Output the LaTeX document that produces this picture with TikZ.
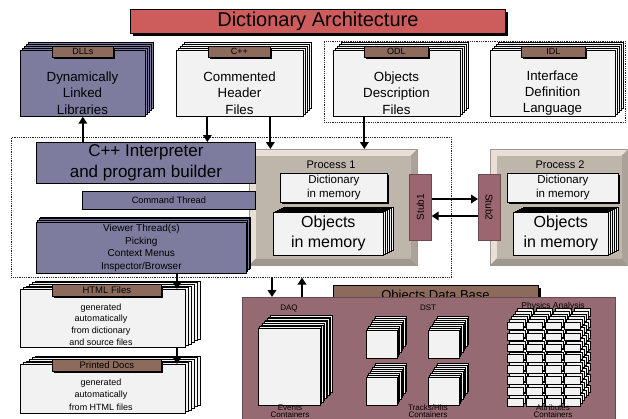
\documentclass[tikz,border=0pt]{standalone}
\usepackage{fontspec}
\usepackage{graphicx}
\setmainfont{Liberation Sans}
\usetikzlibrary{arrows.meta}

\definecolor{titlered}{RGB}{205,92,92}
\definecolor{slate}{RGB}{126,124,158}
\definecolor{tabbrown}{RGB}{140,106,92}
\definecolor{paper}{RGB}{242,242,242}
\definecolor{procin}{RGB}{190,181,171}
\definecolor{proclight}{RGB}{232,224,214}
\definecolor{procdark}{RGB}{160,151,142}
\definecolor{stubc}{RGB}{155,102,112}
\definecolor{stubedge}{RGB}{110,72,80}
\definecolor{dbpanel}{RGB}{150,106,114}

\newcommand\fs[2]{\fontsize{#1}{#2}\selectfont}
% stack of sheets behind a face: x1 y1 x2 y2 layers dx dy fill
\newcommand\paperdeck[8]{%
  \foreach \k in {#5,...,1}{%
    \draw[layer,fill=#8] ({#1+\k*#6},{#2-\k*#7}) rectangle ({#3+\k*#6},{#4-\k*#7});
  }}
% bevelled frame around a process node
\newcommand\bevel[1]{%
  \fill[procdark] (#1.south west) -- (#1.south east) -- ([shift={(-7,-7)}]#1.south east) -- ([shift={(7,-7)}]#1.south west) -- cycle;
  \fill[procdark!85!proclight] (#1.south east) -- (#1.north east) -- ([shift={(-7,7)}]#1.north east) -- ([shift={(-7,-7)}]#1.south east) -- cycle;
  \fill[procin] ([shift={(7,7)}]#1.north west) rectangle ([shift={(-7,-7)}]#1.south east);
}

\begin{document}
\begin{tikzpicture}[x=1pt,y=-1pt,
  layer/.style={draw=black,line width=0.45pt},
  face/.style={draw=black,line width=0.7pt,inner sep=0pt,anchor=north west,align=center},
  dropsh/.style={preaction={fill=black,transform canvas={xshift=#1pt,yshift=-#1pt}}},
  tabbox/.style={face,fill=tabbrown,dropsh=1.2,font=\fs{9}{10}},
  dotbox/.style={draw=black!85,line width=0.6pt,dash pattern=on 0.7pt off 1.1pt,inner sep=0pt,anchor=north west},
  arr/.style={line width=2.2pt,-{Triangle[width=8.5pt,length=7pt]}},
  txt/.style={align=center,inner sep=0pt},
  foot/.style={align=center,inner sep=0.3pt,anchor=south,font=\fs{8}{6.5}},
  procbox/.style={fill=proclight,draw=procdark,line width=0.4pt,inner sep=0pt,anchor=north west},
  stub/.style={face,fill=stubc,draw=stubedge,line width=0.6pt,font=\fs{10}{11}},
]
\useasboundingbox (0,0) rectangle (628,418);
\fill[white] (0,0) rectangle (628,418);

% dotted groupings
\node[dotbox,minimum width=301,minimum height=81] (idlgroup) at (324,41) {};
\node[dotbox,minimum width=440,minimum height=140] (hub) at (11,137) {};

% title bar
\node[face,fill=titlered,line width=0.8pt,dropsh=2.5,minimum width=375,minimum height=24,font=\fs{20}{22}] (title) at (130,9) {Dictionary Architecture};

% top row of source stacks
\paperdeck{20}{50}{145}{116}{4}{2}{2}{slate}
\node[face,fill=slate,minimum width=125,minimum height=66] (dll) at (20,50) {};
\node[tabbox,minimum width=61,minimum height=11] (dlltab) at (52,46) {DLLs};
\node[txt,font=\fs{13.3}{16.3}] (dlltext) at (82.5,93) {Dynamically\\Linked\\Libraries};

\paperdeck{176}{50}{303}{116}{4}{2}{2}{paper}
\node[face,fill=paper,minimum width=127,minimum height=66] (cpp) at (176,50) {};
\node[tabbox,minimum width=62,minimum height=11] (cpptab) at (208,46) {C++};
\node[txt,font=\fs{13.3}{16.3}] (cpptext) at (239.5,93) {Commented\\Header\\Files};

\paperdeck{333}{50}{460}{116}{4}{2}{2}{paper}
\node[face,fill=paper,minimum width=127,minimum height=66] (odl) at (333,50) {};
\node[tabbox,minimum width=64,minimum height=11] (odltab) at (364,46) {ODL};
\node[txt,font=\fs{13.3}{16.3}] (odltext) at (396.5,93) {Objects\\Description\\Files};

\paperdeck{490}{50}{615}{116}{4}{2}{2}{paper}
\node[face,fill=paper,minimum width=125,minimum height=66] (idl) at (490,50) {};
\node[tabbox,minimum width=64,minimum height=11] (idltab) at (521,46) {IDL};
\node[txt,font=\fs{13.3}{16.3}] (idltext) at (552.5,93) {Interface\\Definition\\Language};

% process 1
\node[procbox,minimum width=168,minimum height=116] (p1) at (249,149) {};
\bevel{p1}
\node[txt,font=\fs{11}{13}] (p1text) at (331,165) {Process 1};
\node[face,fill=paper,dropsh=2,minimum width=107,minimum height=29,font=\fs{11.5}{14}] (d1) at (280,173) {Dictionary\\in memory};
\paperdeck{273}{212}{383}{255}{5}{2}{1}{paper}
\node[face,fill=paper,minimum width=110,minimum height=43,font=\fs{16}{20}] (o1) at (273,212) {Objects\\in memory};

% interpreter and threads
\node[face,fill=slate,line width=0.8pt,minimum width=219,minimum height=41,font=\fs{17}{21}] (interp) at (36,142) {C++ Interpreter\\and program builder};
\node[face,fill=slate,minimum width=173,minimum height=18,font=\fs{9.2}{11}] (cmd) at (82,191) {Command Thread};
\paperdeck{36}{222}{246}{273}{3}{1.5}{1.7}{slate}
\node[face,fill=slate,minimum width=210,minimum height=51,font=\fs{10}{12.4}] (view) at (36,222) {Viewer Thread(s)\\Picking\\Context Menus\\Inspector/Browser};

% process 2
\node[procbox,minimum width=138,minimum height=116] (p2) at (490,149) {};
\bevel{p2}
\node[txt,font=\fs{11}{13}] (p2text) at (560,165) {Process 2};
\node[face,fill=paper,dropsh=2,minimum width=111,minimum height=29,font=\fs{11.5}{14}] (d2) at (507,173) {Dictionary\\in memory};
\paperdeck{513}{212}{608}{255}{5}{2}{1}{paper}
\node[face,fill=paper,minimum width=95,minimum height=43,font=\fs{16}{20}] (o2) at (513,212) {Objects\\in memory};

% stubs
\node[stub,minimum width=22,minimum height=66] (s1) at (409,174) {\rotatebox{90}{Stub1}};
\node[stub,minimum width=22,minimum height=66] (s2) at (478,174) {\rotatebox{-90}{Stub2}};
\coordinate (r1) at (0,199);
\coordinate (r2) at (0,216);
\draw[arr] (s1.east |- r1) -- (s2.west |- r1);
\draw[arr] (s2.west |- r2) -- (s1.east |- r2);

% flows from the sources
\coordinate (c1) at ([xshift=-32.5]cpp.south);
\coordinate (c2) at ([xshift=30.5]cpp.south);
\coordinate (c3) at ([xshift=-32.5]odl.south);
\draw[arr] (dll.south |- interp.north) -- (dll.south);
\draw[arr] (c1) -- (c1 |- interp.north);
\draw[arr] (c2) -- (c2 |- p1.north);
\draw[arr] (c3) -- (c3 |- p1.north);

% documentation stacks
\paperdeck{20}{289}{185}{347}{5}{3}{1.6}{paper}
\node[face,fill=paper,minimum width=165,minimum height=58] (html) at (20,289) {};
\node[tabbox,minimum width=109,minimum height=12,font=\fs{9.5}{11}] (htmltab) at (52,284) {HTML Files};
\node[txt,font=\fs{9}{11.7}] (htmltext) at (101,324.5) {generated\\automatically\\from dictionary\\and source files};

\paperdeck{20}{364}{185}{413}{5}{3}{1.6}{paper}
\node[face,fill=paper,minimum width=165,minimum height=49] (docs) at (20,364) {};
\node[tabbox,minimum width=109,minimum height=12,font=\fs{9.5}{11}] (docstab) at (52,359) {Printed Docs};
\node[txt,font=\fs{9}{12.5}] (docstext) at (101,394.5) {generated\\automatically\\from HTML files};

\coordinate (h1) at (177,0);
\draw[arr] (h1 |- view.south) -- (h1 |- html.north);
\draw[arr] (h1 |- html.south) -- (h1 |- docs.north);

% objects data base
\node[face,fill=tabbrown,dropsh=2.5,minimum width=205,minimum height=28] (dbtab) at (333,285) {};
\node[anchor=base,inner sep=0pt,font=\fs{13}{15}] (dbtitle) at (435.5,299) {Objects Data Base};
\node[face,fill=dbpanel,draw=dbpanel!70!black,line width=0.5pt,minimum width=373,minimum height=130] (db) at (242,297) {};

\coordinate (v1) at (272,0);
\coordinate (v2) at (302,0);
\draw[arr] (v1 |- hub.south) -- (v1 |- db.north);
\draw[arr] (v2 |- db.north) -- (v2 |- hub.south);

% DAQ events
\node[txt,font=\fs{8}{9}] (daqlabel) at (289,308) {DAQ};
\paperdeck{258}{328}{320}{405}{8}{1.5}{1.6}{paper}
\node[face,fill=paper,line width=0.9pt,minimum width=62,minimum height=77] (daq) at (258,328) {};
\node[foot] (evtext) at (290,418) {Events\\Containers};

% DST tracks and hits
\node[txt,font=\fs{8}{9}] (dstlabel) at (428,308) {DST};
\paperdeck{366}{330}{397}{358}{7}{1.3}{1.9}{paper}
\node[face,fill=paper,line width=0.9pt,minimum width=31,minimum height=28] (dst1) at (366,330) {};
\paperdeck{428}{330}{459}{358}{7}{1.3}{1.9}{paper}
\node[face,fill=paper,line width=0.9pt,minimum width=31,minimum height=28] (dst2) at (428,330) {};
\paperdeck{366}{377}{397}{405}{7}{1.3}{1.9}{paper}
\node[face,fill=paper,line width=0.9pt,minimum width=31,minimum height=28] (dst3) at (366,377) {};
\paperdeck{428}{377}{459}{405}{7}{1.3}{1.9}{paper}
\node[face,fill=paper,line width=0.9pt,minimum width=31,minimum height=28] (dst4) at (428,377) {};
\node[foot] (trtext) at (428,418) {Tracks/Hits\\Containers};

% physics analysis attribute grid
\foreach \k in {5,...,1}{
  \foreach \c in {0,...,3}{
    \foreach \r in {0,...,7}{
      \draw[layer,fill=paper] ({507+19*\c+2*\k},{321.7+10.9*\r-2.6*\k}) rectangle ++(16,7.5);
    }}}
\foreach \c in {0,...,3}{
  \foreach \r in {0,...,7}{
    \node[face,fill=paper,line width=0.8pt,minimum width=16,minimum height=7.5] (cell-\r-\c) at ({507+19*\c},{321.7+10.9*\r}) {};
  }}
\node[txt,font=\fs{8.5}{9}] (physlabel) at (553,306) {Physics Analysis};
\node[foot] (attrtext) at (553,418) {Attributes\\Containers};
\end{tikzpicture}
\end{document}
